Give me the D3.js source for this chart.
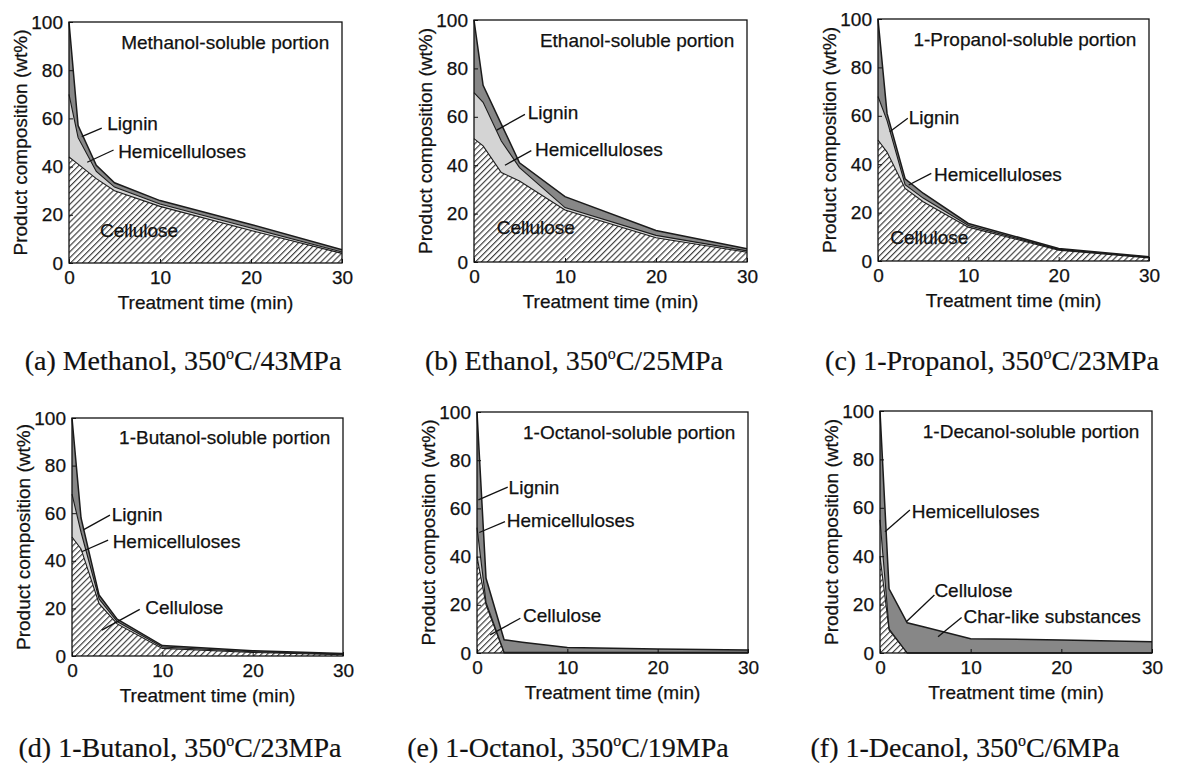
<!DOCTYPE html>
<html>
<head>
<meta charset="utf-8">
<script src="https://cdn.jsdelivr.net/npm/d3@7"></script>
<style>
body { margin: 0; background: #fff; }
text { font-family: "Liberation Sans", Arial, sans-serif; fill: #111; stroke: #111; stroke-width: 0.25px; }
.caption { font-family: "Liberation Serif", "Times New Roman", serif; stroke-width: 0.2px; }
</style>
</head>
<body>
<svg id="fig" width="1181" height="765"></svg>
<script>
// treatment times (min)
var times = [0, 1, 3, 5, 10, 20, 30]

// wt% of each fraction (layer thickness, stacked bottom -> top)
var methanolCellulose = [44, 41, 35, 30, 23.5, 13.5, 4]
var methanolHemi      = [26, 11, 3, 1.5, 1, 1, 0.6]
var methanolLignin    = [30, 5, 2.5, 1.8, 1.4, 1.5, 0.9]

var ethanolCellulose = [51, 48, 37, 33.5, 21.5, 10, 4]
var ethanolHemi      = [19, 18, 13, 5.5, 1, 1, 0.6]
var ethanolLignin    = [30, 7, 7, 2, 4.5, 2, 0.9]

var propanolCellulose = [50, 45, 30, 24.5, 14, 4.5, 1.3]
var propanolHemi      = [18, 13, 1.5, 1.5, 0.7, 0.3, 0.2]
var propanolLignin    = [32, 3, 2.5, 2, 0.8, 0.4, 0.3]

var butanolCellulose = [50, 45, 22, 13.5, 3.2, 1.5, 0.5]
var butanolHemi      = [18, 7, 2, 1, 0.6, 0.3, 0.3]
var butanolLignin    = [32, 6, 1.6, 1, 0.6, 0.4, 0.2]

var octanolCellulose = [40, 20, 0, 0, 0, 0, 0]
var octanolHemi      = [12, 1, 0.3, 0.3, 0.3, 0.3, 0.3]
var octanolLignin    = [48, 10, 5.2, 4.2, 2, 1.4, 0.9]

var decanolCellulose = [40, 9.5, 0, 0, 0, 0, 0]
var decanolHemi      = [15, 0.5, 0, 0, 0, 0, 0]
var decanolChar      = [45, 16.5, 12.5, 10.6, 5.9, 5.4, 4.7]

var yTicks = [0, 20, 40, 60, 80, 100]
var xTicks = [0, 10, 20, 30]

var titles = ['Methanol-soluble portion', 'Ethanol-soluble portion', '1-Propanol-soluble portion',
              '1-Butanol-soluble portion', '1-Octanol-soluble portion', '1-Decanol-soluble portion']
var captionHead = ['(a) Methanol, 350', '(b) Ethanol, 350', '(c) 1-Propanol, 350',
                   '(d) 1-Butanol, 350', '(e) 1-Octanol, 350', '(f) 1-Decanol, 350']
var captionTail = ['C/43MPa', 'C/25MPa', 'C/23MPa', 'C/23MPa', 'C/19MPa', 'C/6MPa']

var series = [
    [methanolCellulose, methanolHemi, methanolLignin],
    [ethanolCellulose, ethanolHemi, ethanolLignin],
    [propanolCellulose, propanolHemi, propanolLignin],
    [butanolCellulose, butanolHemi, butanolLignin],
    [octanolCellulose, octanolHemi, octanolLignin],
    [decanolCellulose, decanolHemi, decanolChar]
]

// plot frames (px)
var frames = [
    {left: 69, right: 342, top: 22, bottom: 263},
    {left: 474, right: 747, top: 20, bottom: 262},
    {left: 878, right: 1149, top: 19, bottom: 261},
    {left: 72, right: 343, top: 418, bottom: 656},
    {left: 477, right: 748, top: 412, bottom: 653},
    {left: 880, right: 1152, top: 411, bottom: 653}
]
var captionPos = [[183, 370], [574, 370], [992, 370], [180, 757], [568, 757], [965, 757]]

// labels: text at [t, wt%], optional leader from -> to (data coords)
var notes = [
    [{text: 'Lignin', at: [4.2, 55], from: [1.4, 52.4], to: [3.6, 56]},
     {text: 'Hemicelluloses', at: [5.4, 43.6], from: [2.0, 41.8], to: [4.9, 46.9]},
     {text: 'Cellulose', at: [3.4, 10.8]}],
    [{text: 'Lignin', at: [5.9, 59], from: [2.5, 54.5], to: [5.6, 61]},
     {text: 'Hemicelluloses', at: [6.7, 43.8], from: [3.4, 40], to: [6.3, 46]},
     {text: 'Cellulose', at: [2.5, 11.6]}],
    [{text: 'Lignin', at: [3.4, 56.6], from: [1.3, 53.4], to: [3.3, 59]},
     {text: 'Hemicelluloses', at: [6.2, 33], from: [3.4, 31.4], to: [5.9, 36.2]},
     {text: 'Cellulose', at: [1.35, 7]}],
    [{text: 'Lignin', at: [4.4, 56.7], from: [1.25, 53], to: [4.2, 59.2]},
     {text: 'Hemicelluloses', at: [4.5, 45.4], from: [1.07, 43.8], to: [4.0, 48.7]},
     {text: 'Cellulose', at: [8.1, 17.6], from: [3.3, 10.9], to: [7.5, 19.6]}],
    [{text: 'Lignin', at: [3.5, 66], from: [0.15, 63.5], to: [3.4, 68.8]},
     {text: 'Hemicelluloses', at: [3.3, 52.3], from: [0.25, 50], to: [3.1, 54.5]},
     {text: 'Cellulose', at: [5.1, 12.9], from: [1.45, 7.5], to: [4.8, 14.4]}],
    [{text: 'Hemicelluloses', at: [3.5, 55.8], from: [0.55, 50.1], to: [3.3, 59.1]},
     {text: 'Cellulose', at: [6, 23.1], from: [2.9, 12.9], to: [6.0, 24]},
     {text: 'Char-like substances', at: [9.2, 12.4], from: [6.4, 6.7], to: [9.0, 14.7]}]
]

var layerFill = ['url(#hatch)', '#d4d4d4', '#878787']

var svg = d3.select('#fig')

// cellulose hatch "////"
var pat = svg.append('defs').append('pattern')
    .attr('id', 'hatch')
    .attr('patternUnits', 'userSpaceOnUse')
    .attr('width', 4.2).attr('height', 4.2)
    .attr('patternTransform', 'rotate(45)')
pat.append('rect').attr('width', 4.2).attr('height', 4.2).attr('fill', '#fff')
pat.append('line')
    .attr('x1', 0.6).attr('y1', 0).attr('x2', 0.6).attr('y2', 4.2)
    .attr('stroke', '#333').attr('stroke-width', 1.1)

function drawPanel(i) {
    var f = frames[i]
    var x = d3.scaleLinear().domain([0, 30]).range([f.left, f.right])
    var y = d3.scaleLinear().domain([0, 100]).range([f.bottom, f.top])

    var rows = times.map((t, j) => ({t: t, c: series[i][0][j], h: series[i][1][j], l: series[i][2][j]}))
    var stacked = d3.stack().keys(['c', 'h', 'l'])(rows)

    var g = svg.append('g').attr('class', 'panel p' + i)

    g.append('rect')
        .attr('x', f.left).attr('y', f.top)
        .attr('width', f.right - f.left).attr('height', f.bottom - f.top)
        .attr('fill', '#fff')

    var area = d3.area()
        .x(d => x(d.data.t))
        .y0(d => y(d[0]))
        .y1(d => y(d[1]))

    g.selectAll('.layer')
        .data(stacked)
        .enter().append('path')
        .attr('class', 'layer')
        .attr('d', area)
        .attr('fill', (d, k) => layerFill[k])

    var topLine = d3.line()
        .x(d => x(d.data.t))
        .y(d => y(d[1]))

    g.selectAll('.edge')
        .data(stacked)
        .enter().append('path')
        .attr('class', 'edge')
        .attr('d', topLine)
        .attr('fill', 'none')
        .attr('stroke', '#1b1b1b')
        .attr('stroke-width', (d, k) => k == 2 ? 1.5 : 1.1)

    // frame
    g.append('rect')
        .attr('x', f.left).attr('y', f.top)
        .attr('width', f.right - f.left).attr('height', f.bottom - f.top)
        .attr('fill', 'none')
        .attr('stroke', '#111')
        .attr('stroke-width', 1.3)

    g.append('g')
        .attr('transform', 'translate(' + f.left + ',0)')
        .call(d3.axisLeft(y).tickValues(yTicks).tickSizeInner(-4).tickSizeOuter(0).tickPadding(6))
        .call(a => a.select('.domain').remove())
        .call(a => a.selectAll('line').attr('stroke', '#111'))
        .call(a => a.selectAll('text').style('font-size', '19px').attr('fill', '#111'))

    g.append('g')
        .attr('transform', 'translate(0,' + f.bottom + ')')
        .call(d3.axisBottom(x).tickValues(xTicks).tickSizeInner(-4).tickSizeOuter(0).tickPadding(8))
        .call(a => a.select('.domain').remove())
        .call(a => a.selectAll('line').attr('stroke', '#111'))
        .call(a => a.selectAll('text').style('font-size', '19px').attr('fill', '#111'))

    // axis titles
    g.append('text')
        .attr('transform', 'translate(' + (f.left - 42) + ',' + ((f.top + f.bottom) / 2) + ') rotate(-90)')
        .attr('text-anchor', 'middle')
        .style('font-size', '19px')
        .text('Product composition (wt%)')

    g.append('text')
        .attr('x', (f.left + f.right) / 2)
        .attr('y', f.bottom + 46)
        .attr('text-anchor', 'middle')
        .style('font-size', '19px')
        .text('Treatment time (min)')

    g.append('text')
        .attr('x', x(28.6))
        .attr('y', y(89))
        .attr('text-anchor', 'end')
        .style('font-size', '19px')
        .text(titles[i])

    notes[i].forEach(function(n) {
        if (n.from) {
            g.append('line')
                .attr('x1', x(n.from[0])).attr('y1', y(n.from[1]))
                .attr('x2', x(n.to[0])).attr('y2', y(n.to[1]))
                .attr('stroke', '#111').attr('stroke-width', 1.3)
        }
        g.append('text')
            .attr('x', x(n.at[0])).attr('y', y(n.at[1]))
            .style('font-size', '19px')
            .text(n.text)
    })

    var cap = svg.append('text')
        .attr('class', 'caption')
        .attr('x', captionPos[i][0]).attr('y', captionPos[i][1])
        .attr('text-anchor', 'middle')
        .style('font-size', '28px')
    cap.append('tspan').text(captionHead[i])
    cap.append('tspan').attr('dy', -11).style('font-size', '16px').text('o')
    cap.append('tspan').attr('dy', 11).text(captionTail[i])
}

for (var i = 0; i < 6; i++) drawPanel(i)
</script>
</body>
</html>
